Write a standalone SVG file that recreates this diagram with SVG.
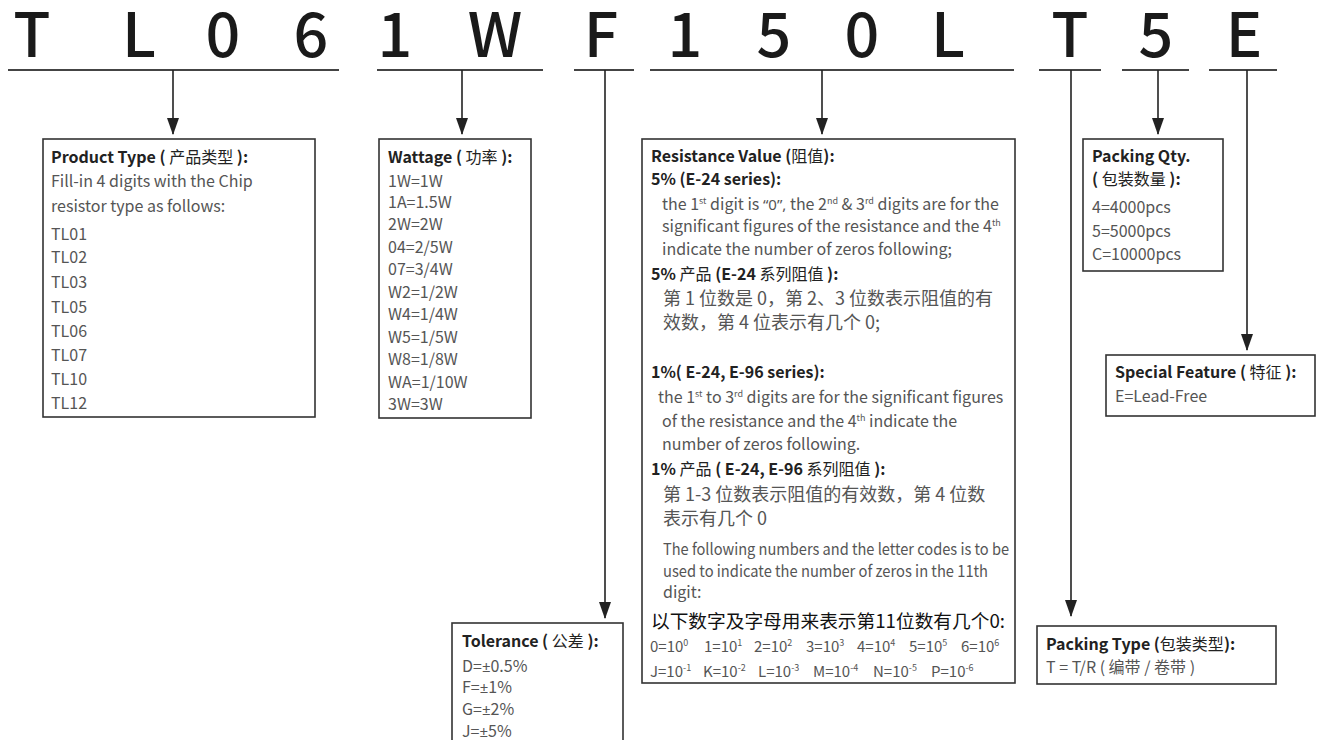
<svg xmlns="http://www.w3.org/2000/svg" width="1320" height="740" viewBox="0 0 1320 740">
<defs>
<style>
text{font-family:"Noto Sans CJK SC","Noto Sans",sans-serif}
.big{font-size:61px;font-weight:500;fill:#1a1a1a;text-anchor:middle}
.h{font-size:16px;font-weight:700;fill:#222}
.n{font-weight:400}
.b{font-size:16px;fill:#555}
.q{font-family:"Noto Sans",sans-serif;font-size:15px}
.c{font-size:18px;fill:#555}
.k{font-size:18.7px;fill:#111}
.e{font-size:15px;fill:#555}
.sup{font-size:9px}
.box{fill:#fff;stroke:#333;stroke-width:1.6}
.ul{stroke:#444;stroke-width:2;fill:none}
.ar{stroke:#222;stroke-width:1.6;fill:none;marker-end:url(#ah)}
</style>
<marker id="ah" markerUnits="userSpaceOnUse" markerWidth="17" markerHeight="12" viewBox="0 0 17 12" refX="16" refY="6" orient="auto">
<path d="M0,0 L17,6 L0,12 Z" fill="#222"/>
</marker>
</defs>
<rect width="1320" height="740" fill="#fff"/>

<g id="code">
<text class="big" x="32" y="57">T</text>
<text class="big" x="139" y="57">L</text>
<text class="big" x="223" y="57">0</text>
<text class="big" x="311" y="57">6</text>
<text class="big" x="395" y="57">1</text>
<text class="big" x="495" y="57">W</text>
<text class="big" x="601" y="57">F</text>
<text class="big" x="685" y="57">1</text>
<text class="big" x="774" y="57">5</text>
<text class="big" x="862" y="57">0</text>
<text class="big" x="948" y="57">L</text>
<text class="big" x="1070" y="57">T</text>
<text class="big" x="1156" y="57">5</text>
<text class="big" x="1244" y="57">E</text>
</g>

<g id="connectors">
<line class="ul" x1="8" y1="70" x2="339" y2="70"/>
<line class="ul" x1="377" y1="70" x2="543" y2="70"/>
<line class="ul" x1="574" y1="70" x2="634" y2="70"/>
<line class="ul" x1="650" y1="70" x2="1014" y2="70"/>
<line class="ul" x1="1039" y1="70" x2="1101" y2="70"/>
<line class="ul" x1="1122" y1="70" x2="1189" y2="70"/>
<line class="ul" x1="1209" y1="70" x2="1277" y2="70"/>
<line class="ar" x1="173" y1="70" x2="173" y2="134"/>
<line class="ar" x1="462" y1="70" x2="462" y2="134"/>
<line class="ar" x1="605" y1="70" x2="605" y2="618"/>
<line class="ar" x1="822" y1="70" x2="822" y2="134"/>
<line class="ar" x1="1071" y1="70" x2="1071" y2="616"/>
<line class="ar" x1="1158" y1="70" x2="1158" y2="134"/>
<line class="ar" x1="1247" y1="70" x2="1247" y2="350"/>
</g>

<g id="product-type">
<rect class="box" x="43" y="139" width="272" height="278"/>
<text class="h" x="51" y="163">Product Type ( <tspan class="n">产品类型</tspan> ):</text>
<text class="b" x="51" y="187">Fill-in 4 digits with the Chip</text>
<text class="b" x="51" y="212">resistor type as follows:</text>
<text class="b" x="51" y="240">TL01</text>
<text class="b" x="51" y="263">TL02</text>
<text class="b" x="51" y="288">TL03</text>
<text class="b" x="51" y="313">TL05</text>
<text class="b" x="51" y="337">TL06</text>
<text class="b" x="51" y="361">TL07</text>
<text class="b" x="51" y="385">TL10</text>
<text class="b" x="51" y="409">TL12</text>
</g>

<g id="wattage">
<rect class="box" x="379" y="139" width="152" height="279"/>
<text class="h" x="388" y="163">Wattage ( <tspan class="n">功率</tspan> ):</text>
<text class="b" x="388" y="187">1W=1W</text>
<text class="b" x="388" y="208">1A=1.5W</text>
<text class="b" x="388" y="230">2W=2W</text>
<text class="b" x="388" y="253">04=2/5W</text>
<text class="b" x="388" y="275">07=3/4W</text>
<text class="b" x="388" y="298">W2=1/2W</text>
<text class="b" x="388" y="320">W4=1/4W</text>
<text class="b" x="388" y="343">W5=1/5W</text>
<text class="b" x="388" y="365">W8=1/8W</text>
<text class="b" x="388" y="388">WA=1/10W</text>
<text class="b" x="388" y="410">3W=3W</text>
</g>

<g id="tolerance">
<rect class="box" x="452" y="623" width="171" height="140"/>
<text class="h" x="462" y="647">Tolerance ( <tspan class="n">公差</tspan> ):</text>
<text class="b" x="462" y="672">D=<tspan class="q">±</tspan>0.5%</text>
<text class="b" x="462" y="693">F=<tspan class="q">±</tspan>1%</text>
<text class="b" x="462" y="715">G=<tspan class="q">±</tspan>2%</text>
<text class="b" x="462" y="737">J=<tspan class="q">±</tspan>5%</text>
</g>

<g id="resistance-value">
<rect class="box" x="642" y="139" width="373" height="544"/>
<text class="h" x="651" y="162">Resistance Value (<tspan class="n">阻值</tspan>):</text>
<text class="h" x="651" y="185">5% (E-24 series):</text>
<text class="b" x="662" y="210">the 1<tspan class="sup" dy="-6">st</tspan><tspan dy="6"> digit is </tspan><tspan class="q">“0”,</tspan> the 2<tspan class="sup" dy="-6">nd</tspan><tspan dy="6"> &amp; 3</tspan><tspan class="sup" dy="-6">rd</tspan><tspan dy="6"> digits are for the</tspan></text>
<text class="b" x="662" y="232">significant figures of the resistance and the 4<tspan class="sup" dy="-6">th</tspan></text>
<text class="b" x="662" y="255">indicate the number of  zeros following;</text>
<text class="h" x="651" y="280">5% <tspan class="n">产品</tspan> (E-24 <tspan class="n">系列阻值</tspan> ):</text>
<text class="c" x="663" y="305">第 1 位数是 0，第 2、3 位数表示阻值的有</text>
<text class="c" x="663" y="329">效数，第 4 位表示有几个 0;</text>
<text class="h" x="651" y="378">1%( E-24, E-96 series):</text>
<text class="b" x="658" y="403">the 1<tspan class="sup" dy="-6">st</tspan><tspan dy="6"> to 3</tspan><tspan class="sup" dy="-6">rd</tspan><tspan dy="6"> digits are for the significant figures</tspan></text>
<text class="b" x="662" y="427">of the resistance and the 4<tspan class="sup" dy="-6">th</tspan><tspan dy="6"> indicate the</tspan></text>
<text class="b" x="662" y="450">number of  zeros following.</text>
<text class="h" x="651" y="475">1% <tspan class="n">产品</tspan> ( E-24, E-96 <tspan class="n">系列阻值</tspan> ):</text>
<text class="c" x="663" y="501">第 1-3 位数表示阻值的有效数，第 4 位数</text>
<text class="c" x="663" y="525">表示有几个 0</text>
<text class="b" x="663" y="555" textLength="346" lengthAdjust="spacingAndGlyphs">The following numbers and the letter codes is to be</text>
<text class="b" x="663" y="577" textLength="325" lengthAdjust="spacingAndGlyphs">used to indicate the number of zeros in the 11th</text>
<text class="b" x="663" y="598">digit:</text>
<text class="k" x="651" y="628">以下数字及字母用来表示第11位数有几个0:</text>
<text class="e" x="650" y="652">0=10<tspan class="sup" dy="-6">0</tspan></text>
<text class="e" x="704" y="652">1=10<tspan class="sup" dy="-6">1</tspan></text>
<text class="e" x="754" y="652">2=10<tspan class="sup" dy="-6">2</tspan></text>
<text class="e" x="806" y="652">3=10<tspan class="sup" dy="-6">3</tspan></text>
<text class="e" x="857" y="652">4=10<tspan class="sup" dy="-6">4</tspan></text>
<text class="e" x="909" y="652">5=10<tspan class="sup" dy="-6">5</tspan></text>
<text class="e" x="961" y="652">6=10<tspan class="sup" dy="-6">6</tspan></text>
<text class="e" x="650" y="677">J=10<tspan class="sup" dy="-6">-1</tspan></text>
<text class="e" x="703" y="677">K=10<tspan class="sup" dy="-6">-2</tspan></text>
<text class="e" x="758" y="677">L=10<tspan class="sup" dy="-6">-3</tspan></text>
<text class="e" x="813" y="677">M=10<tspan class="sup" dy="-6">-4</tspan></text>
<text class="e" x="873" y="677">N=10<tspan class="sup" dy="-6">-5</tspan></text>
<text class="e" x="931" y="677">P=10<tspan class="sup" dy="-6">-6</tspan></text>
</g>

<g id="packing-type">
<rect class="box" x="1037" y="626" width="239" height="58"/>
<text class="h" x="1046" y="650">Packing Type (<tspan class="n">包装类型</tspan>):</text>
<text class="b" x="1046" y="673">T = T/R ( 编带 / 卷带 )</text>
</g>

<g id="packing-qty">
<rect class="box" x="1083" y="139" width="140" height="132"/>
<text class="h" x="1092" y="162">Packing Qty.</text>
<text class="h" x="1092" y="185">( <tspan class="n">包装数量</tspan> ):</text>
<text class="b" x="1092" y="213">4=4000pcs</text>
<text class="b" x="1092" y="237">5=5000pcs</text>
<text class="b" x="1092" y="260">C=10000pcs</text>
</g>

<g id="special-feature">
<rect class="box" x="1106" y="355" width="209" height="61"/>
<text class="h" x="1115" y="378">Special Feature ( <tspan class="n">特征</tspan> ):</text>
<text class="b" x="1115" y="402">E=Lead-Free</text>
</g>
</svg>
